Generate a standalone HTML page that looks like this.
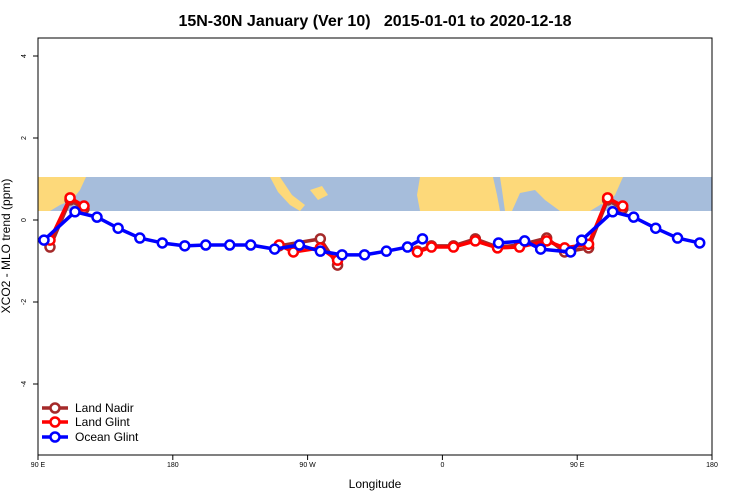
<!DOCTYPE html>
<html><head><meta charset="utf-8"><style>
html,body{margin:0;padding:0;background:#fff;}
svg{display:block;font-family:"Liberation Sans",sans-serif;}
</style></head><body>
<svg id="chart" width="750" height="500">
<text x="375" y="26" text-anchor="middle" font-size="16" font-weight="bold" style="white-space:pre" xml:space="preserve">15N-30N January (Ver 10)   2015-01-01 to 2020-12-18</text>
<g id="map"></g>
<g id="axes"></g>
<g id="series"></g>
<g id="legend"></g>
</svg>
<script>
const xTicks = [90, 180, 270, 360, 450, 540];
const xTickLabels = ["90 E", "180", "90 W", "0", "90 E", "180"];
const yTicks = [4, 2, 0, -2, -4];
const yTickLabels = ["4", "2", "0", "-2", "-4"];
// null entries mark gaps in the line (missing data)
const oceanLon = [94,114.7,129.4,143.5,158,173,188,202,218,232,248,264.5,278.5,293,308,322.6,336.7,346.7,null,397.5,414.9,425.6,445.6,453,473.7,487.7,502.4,517,531.8];
const oceanVal = [-0.49,0.2,0.07,-0.2,-0.44,-0.56,-0.63,-0.61,-0.61,-0.61,-0.71,-0.61,-0.76,-0.85,-0.85,-0.76,-0.66,-0.46,null,-0.56,-0.51,-0.71,-0.78,-0.49,0.2,0.07,-0.2,-0.44,-0.56];
const glintLon = [98,111.4,120.7,null,251,260.5,278.5,290,null,343.3,352.7,367.4,382,396.8,411.5,429.6,441.6,457.6,470.3,480.4];
const glintVal = [-0.49,0.54,0.34,null,-0.61,-0.78,-0.68,-0.98,null,-0.78,-0.66,-0.66,-0.51,-0.68,-0.66,-0.51,-0.68,-0.59,0.54,0.34];
const nadirLon = [98,111.4,120.7,null,251,278.5,290,null,343.3,352.7,367.4,382,396.8,411.5,429.6,441.6,457.6,470.3,480.4];
const nadirVal = [-0.66,0.49,0.27,null,-0.63,-0.46,-1.1,null,-0.76,-0.63,-0.63,-0.46,-0.66,-0.61,-0.44,-0.78,-0.68,0.49,0.27];

const L=38,R=712,T=38,B=455;
const xs = v => L + (v-90)*(R-L)/450;
const ys = v => 220 - v*41;
const NS="http://www.w3.org/2000/svg";
function mk(tag, attrs, parent){const e=document.createElementNS(NS,tag);for(const k in attrs)e.setAttribute(k,attrs[k]);parent.appendChild(e);return e;}

const map=document.getElementById('map');
let r=mk('rect',{x:L,y:177,width:R-L,height:34,fill:'#a6bddb'},map);


const lands=[
 "38,177 86,177 80,190 72,200 60,205 50,211 38,211",
 "270,177 280,177 292,195 305,205 300,211 290,205 278,192",
 "310,190 322,186 328,195 318,200",
 "420,177 493,177 497,195 500,211 420,211 417,195",
 "500,177 620,177 612,192 600,205 590,211 560,211 545,200 535,190 520,193 512,211 505,211 502,190",
 "570,177 623,177 615,195 605,205 585,200"
];
lands.forEach(p=>{const e=mk('polygon',{points:p,fill:'#fdd97a'},map);

});

const ax=document.getElementById('axes');
let box=mk('rect',{x:L,y:T,width:R-L,height:B-T,fill:'none',stroke:'#000','stroke-width':1},ax);


xTicks.forEach((t,i)=>{
 const x=xs(t);
 mk('line',{x1:x,x2:x,y1:B,y2:B+5,stroke:'#000'},ax);
 const tx=mk('text',{x:x,y:B+12,'text-anchor':'middle','font-size':7},ax);
 tx.textContent=xTickLabels[i];
 
 
});
yTicks.forEach((t,i)=>{
 const y=ys(t);
 mk('line',{x1:L-5,x2:L,y1:y,y2:y,stroke:'#000'},ax);
 const tx=mk('text',{x:L-12,y:y,'text-anchor':'middle','font-size':7,transform:`rotate(-90 ${L-12} ${y})`},ax);
 tx.textContent=yTickLabels[i];
 
 
});
let xt=mk('text',{x:375,y:488,'text-anchor':'middle','font-size':12},ax);
xt.textContent='Longitude';


let yt=mk('text',{x:10,y:246,'text-anchor':'middle','font-size':12,transform:'rotate(-90 10 246)'},ax);
yt.textContent='XCO2 - MLO trend (ppm)';



const sg=document.getElementById('series');
function drawSeries(lon,val,color,name){
 const g=mk('g',{},sg);
 
 
 let segs=[[]];
 lon.forEach((v,i)=>{
  if(v===null||val[i]===null){segs.push([]);return;}
  segs[segs.length-1].push(xs(v)+','+ys(val[i]));
 });
 segs.filter(s=>s.length>1).forEach(s=>{
  mk('polyline',{points:s.join(' '),fill:'none',stroke:color,'stroke-width':3.5,'stroke-linejoin':'round'},g);
 });
 lon.forEach((v,i)=>{
  if(v===null||val[i]===null)return;
  const c=mk('circle',{cx:xs(v),cy:ys(val[i]),r:4.5,fill:'#fff',stroke:color,'stroke-width':2.5},g);
  
  
 });
}
drawSeries(nadirLon,nadirVal,'#a52a2a','land-nadir-series');
drawSeries(glintLon,glintVal,'#ff0000','land-glint-series');
drawSeries(oceanLon,oceanVal,'#0000ff','ocean-glint-series');

const lg=document.getElementById('legend');
[['Land Nadir','#a52a2a',408],['Land Glint','#ff0000',422],['Ocean Glint','#0000ff',437]].forEach(([t,c,y])=>{
 const g=mk('g',{},lg);
 
 
 mk('line',{x1:42,x2:68,y1:y,y2:y,stroke:c,'stroke-width':3.5},g);
 mk('circle',{cx:55,cy:y,r:4.5,fill:'#fff',stroke:c,'stroke-width':2.5},g);
 const tx=mk('text',{x:75,y:y+4,'font-size':12},g);
 tx.textContent=t;
});
</script>
</body></html>
